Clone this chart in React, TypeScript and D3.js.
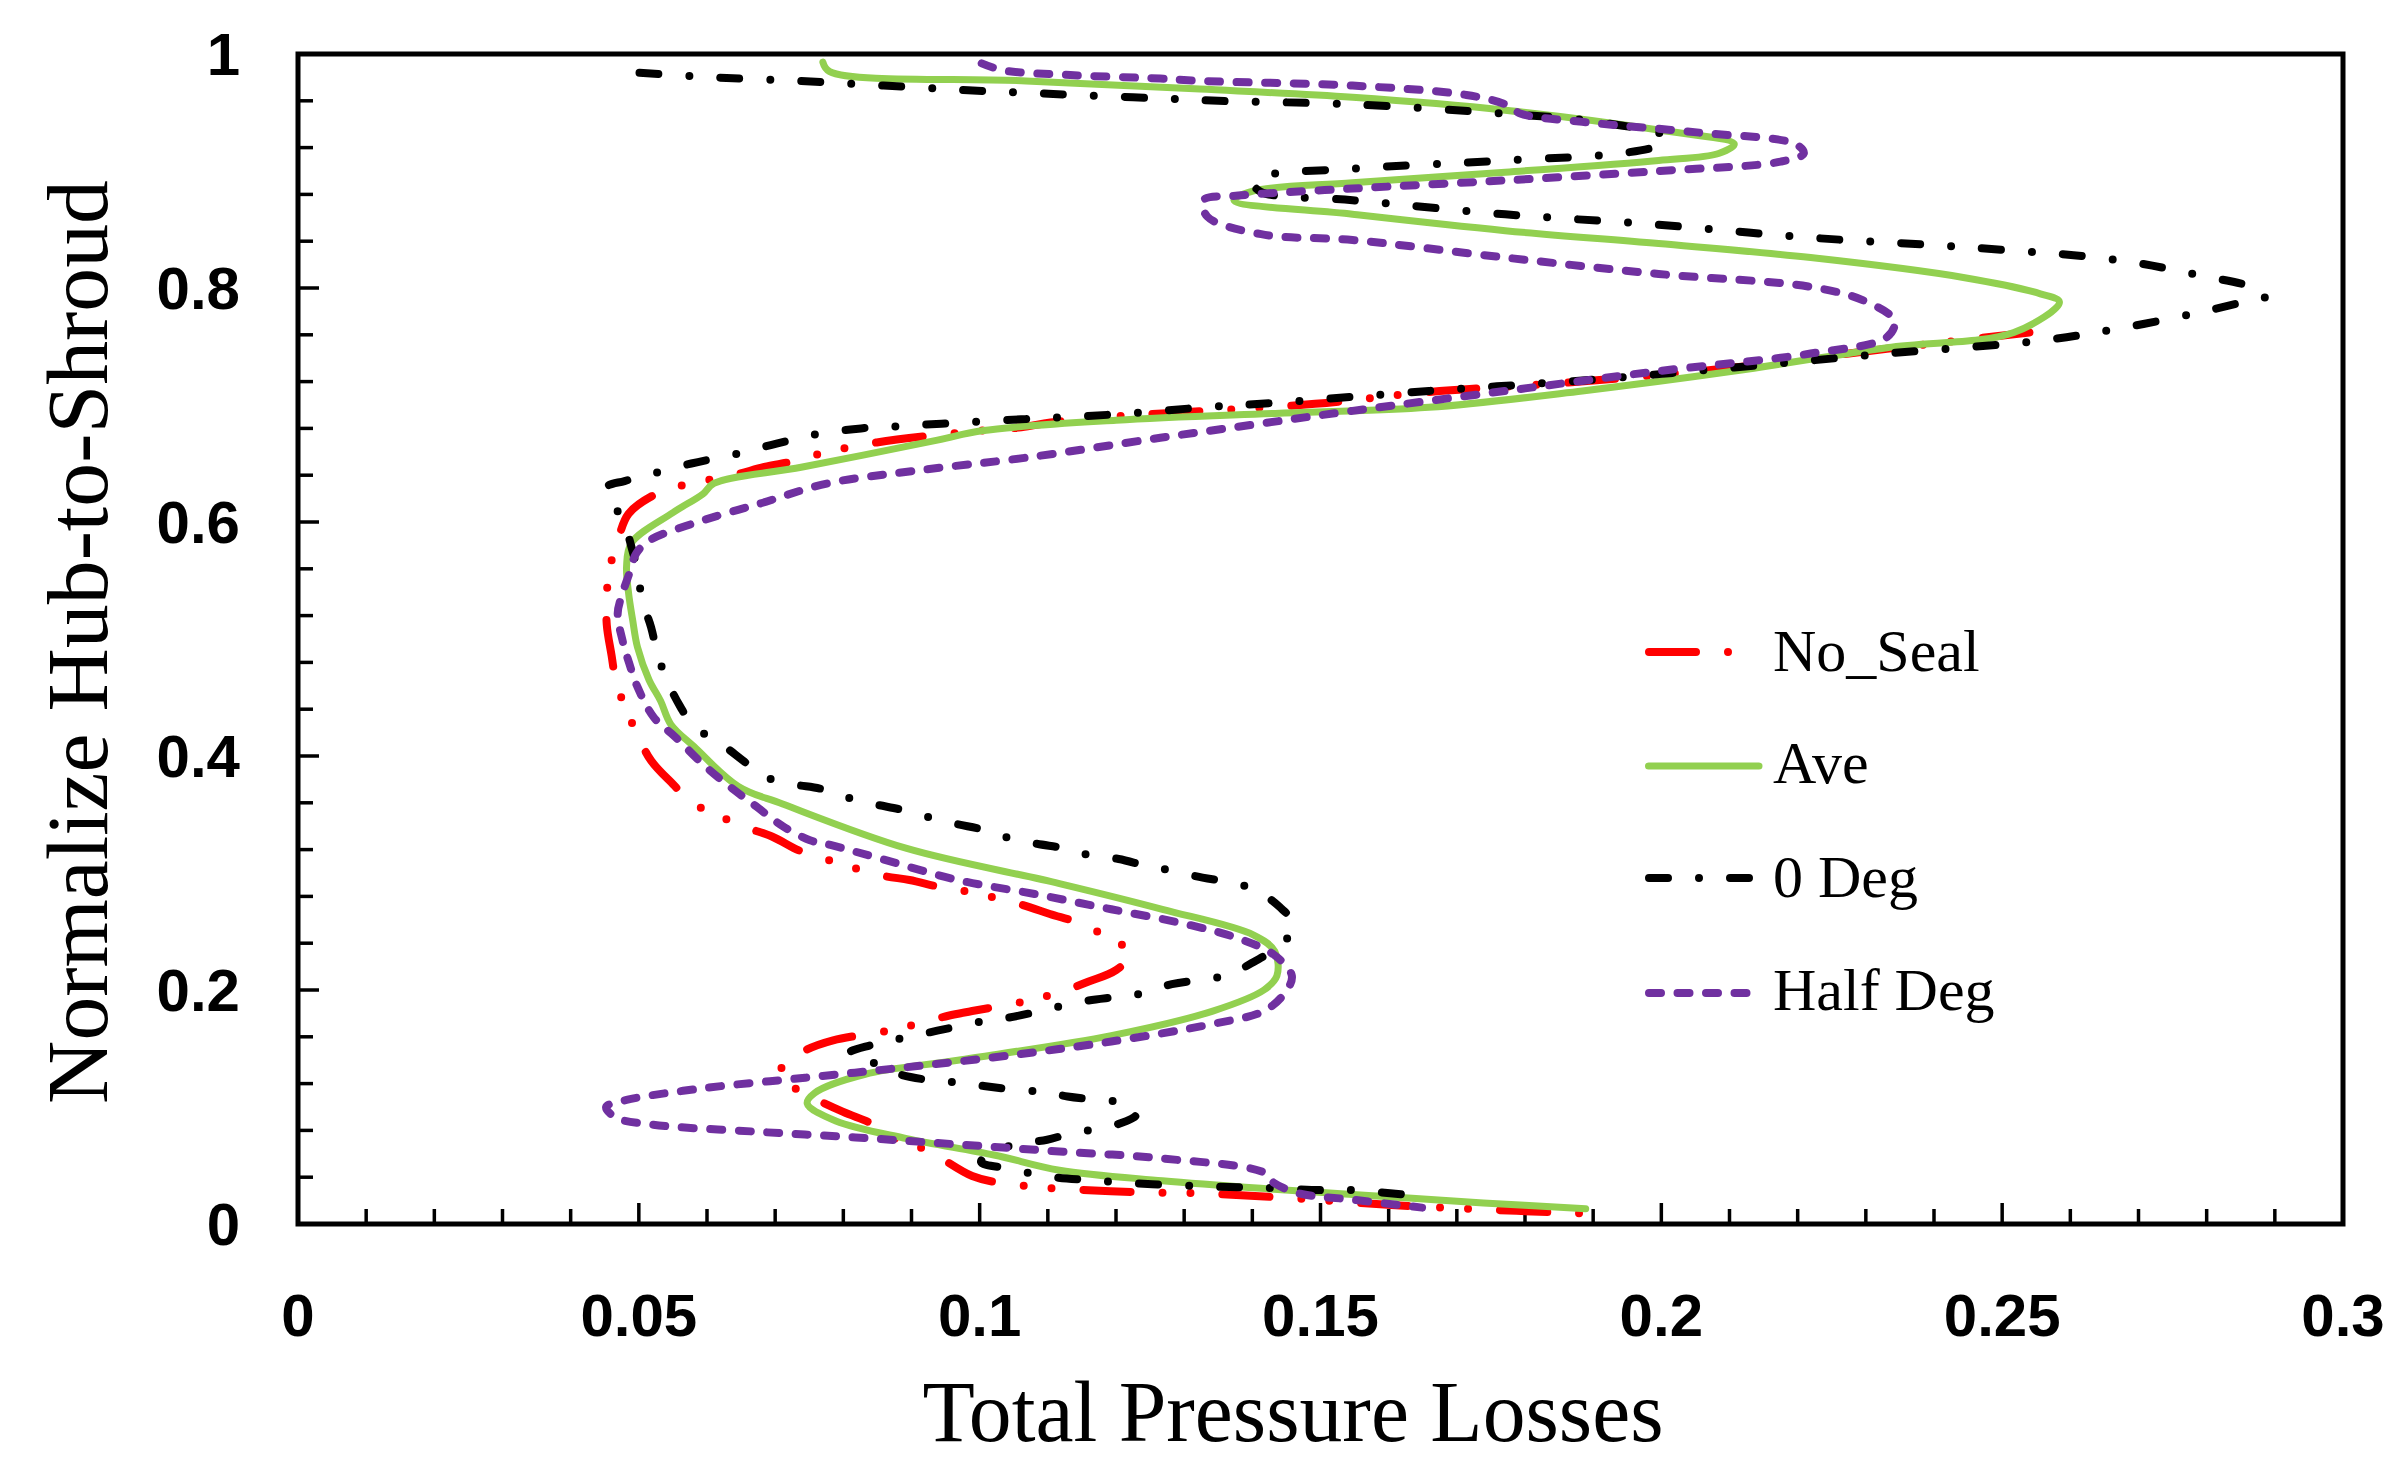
import React from "react";
import * as d3 from "d3";

const W = 2398;
const H = 1469;
const PLOT = { left: 298, right: 2343, top: 54, bottom: 1224 };

const xTickValues = [0, 0.05, 0.1, 0.15, 0.2, 0.25, 0.3];
const xTickLabels = ["0", "0.05", "0.1", "0.15", "0.2", "0.25", "0.3"];
const yTickValues = [0, 0.2, 0.4, 0.6, 0.8, 1];
const yTickLabels = ["0", "0.2", "0.4", "0.6", "0.8", "1"];

const xTitle = "Total Pressure Losses";
const yTitle = "Normalize Hub-to-Shroud";
const seriesNames = ["No_Seal", "Ave", "0 Deg", "Half Deg"];

// No_Seal
const noSealLoss = [0.2540,0.2331,0.2107,0.1882,0.1658,0.1492,0.1274,0.1193,0.1104,0.1061,0.0981,0.0849,0.0770,0.0727,0.0684,0.0639,0.0561,0.0522,0.0485,0.0469,0.0458,0.0453,0.0453,0.0460,0.0467,0.0480,0.0498,0.0518,0.0550,0.0579,0.0653,0.0696,0.0736,0.0773,0.0855,0.0897,0.0942,0.0983,0.1061,0.1103,0.1147,0.1185,0.1223,0.1200,0.1159,0.1117,0.1072,0.0989,0.0954,0.0909,0.0864,0.0785,0.0743,0.0709,0.0711,0.0729,0.0799,0.0841,0.0879,0.0923,0.0989,0.1031,0.1077,0.1122,0.1245,0.1335,0.1458,0.1582,0.1716,0.1885];
const noSealSpan = [0.762,0.748,0.732,0.720,0.711,0.701,0.693,0.690,0.685,0.681,0.677,0.668,0.659,0.652,0.647,0.640,0.631,0.623,0.607,0.584,0.562,0.539,0.512,0.486,0.462,0.442,0.418,0.396,0.376,0.360,0.340,0.331,0.319,0.312,0.298,0.294,0.288,0.284,0.273,0.265,0.257,0.246,0.231,0.217,0.207,0.198,0.191,0.182,0.178,0.171,0.165,0.157,0.148,0.133,0.124,0.116,0.096,0.086,0.072,0.063,0.041,0.035,0.032,0.030,0.027,0.026,0.022,0.017,0.013,0.009];

// Ave
const aveLoss = [0.0770,0.0780,0.1068,0.1323,0.1547,0.1771,0.1996,0.2107,0.2084,0.1996,0.1771,0.1547,0.1402,0.1373,0.1547,0.1771,0.1996,0.2219,0.2443,0.2556,0.2584,0.2517,0.2331,0.2107,0.1884,0.1659,0.1440,0.1200,0.1003,0.0938,0.0740,0.0610,0.0594,0.0550,0.0489,0.0482,0.0485,0.0491,0.0498,0.0515,0.0532,0.0547,0.0581,0.0646,0.0711,0.0893,0.1117,0.1268,0.1402,0.1433,0.1436,0.1417,0.1342,0.1193,0.0968,0.0832,0.0758,0.0747,0.0789,0.0893,0.1021,0.1117,0.1268,0.1425,0.1582,0.1739,0.1889];
const aveSpan = [0.993,0.985,0.977,0.970,0.963,0.952,0.935,0.923,0.915,0.909,0.899,0.890,0.883,0.875,0.863,0.849,0.838,0.826,0.809,0.795,0.788,0.762,0.749,0.729,0.712,0.698,0.693,0.687,0.678,0.670,0.647,0.633,0.624,0.608,0.582,0.562,0.539,0.516,0.493,0.465,0.447,0.427,0.408,0.374,0.359,0.321,0.291,0.269,0.247,0.233,0.212,0.200,0.182,0.161,0.140,0.128,0.112,0.103,0.088,0.073,0.059,0.046,0.037,0.030,0.024,0.018,0.013];

// 0 Deg
const zeroDegLoss = [0.0501,0.0610,0.0734,0.0859,0.0983,0.1101,0.1225,0.1350,0.1547,0.1771,0.1905,0.2007,0.1996,0.1939,0.1771,0.1547,0.1413,0.1402,0.1413,0.1547,0.1771,0.1996,0.2219,0.2443,0.2668,0.2780,0.2881,0.2887,0.2847,0.2780,0.2668,0.2556,0.2331,0.2107,0.1884,0.1659,0.1435,0.1330,0.1199,0.1068,0.0944,0.0885,0.0826,0.0761,0.0702,0.0642,0.0577,0.0518,0.0479,0.0453,0.0455,0.0476,0.0489,0.0498,0.0505,0.0518,0.0527,0.0541,0.0561,0.0581,0.0617,0.0653,0.0682,0.0725,0.0767,0.0803,0.0844,0.0886,0.0924,0.0965,0.1005,0.1043,0.1084,0.1125,0.1163,0.1204,0.1245,0.1282,0.1327,0.1369,0.1406,0.1440,0.1462,0.1440,0.1402,0.1365,0.1327,0.1282,0.1238,0.1200,0.1159,0.1117,0.1081,0.1039,0.1002,0.0960,0.0920,0.0879,0.0841,0.0808,0.0819,0.0848,0.0882,0.0927,0.0968,0.1006,0.1047,0.1091,0.1129,0.1171,0.1212,0.1230,0.1223,0.1182,0.1137,0.1099,0.1062,0.1020,0.1002,0.1047,0.1096,0.1171,0.1253,0.1339,0.1417,0.1499,0.1544,0.1627];
const zeroDegSpan = [0.984,0.980,0.977,0.973,0.969,0.966,0.963,0.960,0.957,0.949,0.942,0.929,0.922,0.915,0.909,0.902,0.895,0.889,0.882,0.875,0.863,0.854,0.843,0.835,0.824,0.812,0.798,0.793,0.787,0.778,0.765,0.755,0.744,0.732,0.721,0.712,0.702,0.698,0.692,0.688,0.684,0.682,0.680,0.675,0.667,0.658,0.650,0.641,0.635,0.630,0.620,0.603,0.579,0.558,0.533,0.510,0.488,0.465,0.442,0.425,0.412,0.396,0.383,0.376,0.372,0.365,0.359,0.354,0.348,0.342,0.337,0.330,0.325,0.321,0.315,0.312,0.306,0.302,0.296,0.292,0.285,0.271,0.255,0.238,0.224,0.213,0.209,0.205,0.197,0.194,0.191,0.186,0.181,0.176,0.173,0.168,0.163,0.158,0.153,0.146,0.141,0.137,0.128,0.123,0.121,0.118,0.115,0.113,0.109,0.106,0.103,0.094,0.090,0.082,0.078,0.072,0.069,0.062,0.053,0.047,0.041,0.037,0.034,0.032,0.031,0.029,0.029,0.025];

// Half Deg
const halfDegLoss = [0.1003,0.1035,0.1133,0.1265,0.1323,0.1547,0.1714,0.1771,0.1794,0.1884,0.2052,0.2197,0.2209,0.2175,0.1996,0.1771,0.1547,0.1379,0.1328,0.1334,0.1413,0.1547,0.1771,0.1996,0.2219,0.2298,0.2342,0.2331,0.2219,0.1996,0.1771,0.1547,0.1411,0.1265,0.1068,0.0908,0.0777,0.0679,0.0581,0.0515,0.0496,0.0486,0.0476,0.0469,0.0476,0.0486,0.0498,0.0522,0.0554,0.0594,0.0633,0.0672,0.0711,0.0751,0.0781,0.0856,0.0968,0.1081,0.1193,0.1305,0.1380,0.1432,0.1458,0.1447,0.1417,0.1342,0.1193,0.1043,0.0893,0.0744,0.0594,0.0482,0.0452,0.0466,0.0519,0.0669,0.0818,0.0968,0.1117,0.1268,0.1417,0.1432,0.1470,0.1544,0.1649];
const halfDegSpan = [0.992,0.986,0.982,0.979,0.977,0.973,0.965,0.957,0.949,0.942,0.933,0.923,0.915,0.908,0.900,0.892,0.885,0.879,0.875,0.861,0.846,0.841,0.826,0.812,0.801,0.789,0.772,0.758,0.744,0.729,0.712,0.695,0.684,0.672,0.655,0.644,0.633,0.616,0.599,0.584,0.573,0.556,0.539,0.522,0.499,0.479,0.459,0.433,0.416,0.393,0.374,0.357,0.340,0.328,0.324,0.312,0.294,0.282,0.269,0.256,0.244,0.230,0.212,0.197,0.182,0.171,0.156,0.144,0.134,0.125,0.116,0.106,0.100,0.091,0.085,0.079,0.074,0.068,0.062,0.056,0.044,0.035,0.026,0.021,0.014];

type Style = { color: string; width: number; dash: string | null };
const styles: Style[] = [
  { color: "#ff0000", width: 8, dash: "47 32 0 28 0 32" },
  { color: "#92d050", width: 7, dash: null },
  { color: "#000000", width: 8, dash: "19 31 0 31" },
  { color: "#7030a0", width: 8, dash: "12 16.5" },
];

const seriesData: [number[], number[]][] = [
  [noSealLoss, noSealSpan],
  [aveLoss, aveSpan],
  [zeroDegLoss, zeroDegSpan],
  [halfDegLoss, halfDegSpan],
];

export default function App() {
  const x = d3.scaleLinear().domain([0, 0.3]).range([PLOT.left, PLOT.right]);
  const y = d3.scaleLinear().domain([0, 1]).range([PLOT.bottom, PLOT.top]);

  const line = d3
    .line<[number, number]>()
    .x((d) => x(d[0]))
    .y((d) => y(d[1]))
    .curve(d3.curveCatmullRom.alpha(0.5));

  const xMinor = d3.range(0, 31).map((i) => i * 0.01);
  const yMinor = d3.range(0, 26).map((i) => i * 0.04);

  const tickFont = "'Liberation Sans', Arial, sans-serif";
  const serif = "'Liberation Serif', 'Times New Roman', serif";

  const legendY = [652, 766, 878, 993];
  const legendBase = [671, 783, 897, 1010];
  const legendEnds = [1730, 1759, 1749, 1760];

  return (
    <svg
      width={W}
      height={H}
      viewBox={`0 0 ${W} ${H}`}
      style={{ position: "absolute", left: 0, top: 0, background: "#fff" }}
    >
      <rect x={0} y={0} width={W} height={H} fill="#fff" />
      {xMinor.map((v, i) => {
        const major = i % 5 === 0;
        return (
          <line
            key={"xt" + i}
            x1={x(v)}
            x2={x(v)}
            y1={PLOT.bottom}
            y2={PLOT.bottom - (major ? 21 : 15)}
            stroke="#000"
            strokeWidth={3.5}
          />
        );
      })}
      {yMinor.map((v, i) => {
        const major = i % 5 === 0;
        return (
          <line
            key={"yt" + i}
            x1={PLOT.left}
            x2={PLOT.left + (major ? 21 : 15)}
            y1={y(v)}
            y2={y(v)}
            stroke="#000"
            strokeWidth={3.5}
          />
        );
      })}

      {seriesData.map(([xs, ys], si) => {
        const n = Math.min(xs.length, ys.length);
        const pts: [number, number][] = d3.range(n).map((i) => [xs[i], ys[i]]);
        const st = styles[si];
        return (
          <path
            key={"s" + si}
            d={line(pts) || ""}
            fill="none"
            stroke={st.color}
            strokeWidth={st.width}
            strokeDasharray={st.dash || undefined}
            strokeLinecap="round"
            strokeLinejoin="round"
          />
        );
      })}

      <rect
        x={PLOT.left}
        y={PLOT.top}
        width={PLOT.right - PLOT.left}
        height={PLOT.bottom - PLOT.top}
        fill="none"
        stroke="#000"
        strokeWidth={5}
      />

      {xTickValues.map((v, i) => (
        <text
          key={"xl" + i}
          x={x(v)}
          y={1336}
          textAnchor="middle"
          fontFamily={tickFont}
          fontWeight="bold"
          fontSize={60}
        >
          {xTickLabels[i]}
        </text>
      ))}
      {yTickValues.map((v, i) => (
        <text
          key={"yl" + i}
          x={240}
          y={y(v) + 21}
          textAnchor="end"
          fontFamily={tickFont}
          fontWeight="bold"
          fontSize={60}
        >
          {yTickLabels[i]}
        </text>
      ))}

      <text
        x={1293}
        y={1441}
        textAnchor="middle"
        fontFamily={serif}
        fontSize={86}
        textLength={741}
        lengthAdjust="spacingAndGlyphs"
      >
        {xTitle}
      </text>
      <text
        transform={`translate(107, 642) rotate(-90)`}
        textAnchor="middle"
        fontFamily={serif}
        fontSize={86}
        textLength={924}
        lengthAdjust="spacingAndGlyphs"
      >
        {yTitle}
      </text>

      {seriesNames.map((name, i) => {
        const st = styles[i];
        const x0 = 1645 + st.width / 2;
        return (
          <g key={"lg" + i}>
            <line
              x1={x0}
              x2={legendEnds[i]}
              y1={legendY[i]}
              y2={legendY[i]}
              stroke={st.color}
              strokeWidth={st.width}
              strokeDasharray={st.dash || undefined}
              strokeLinecap="round"
            />
            <text x={1773} y={legendBase[i]} fontFamily={serif} fontSize={60}>
              {name}
            </text>
          </g>
        );
      })}
    </svg>
  );
}
